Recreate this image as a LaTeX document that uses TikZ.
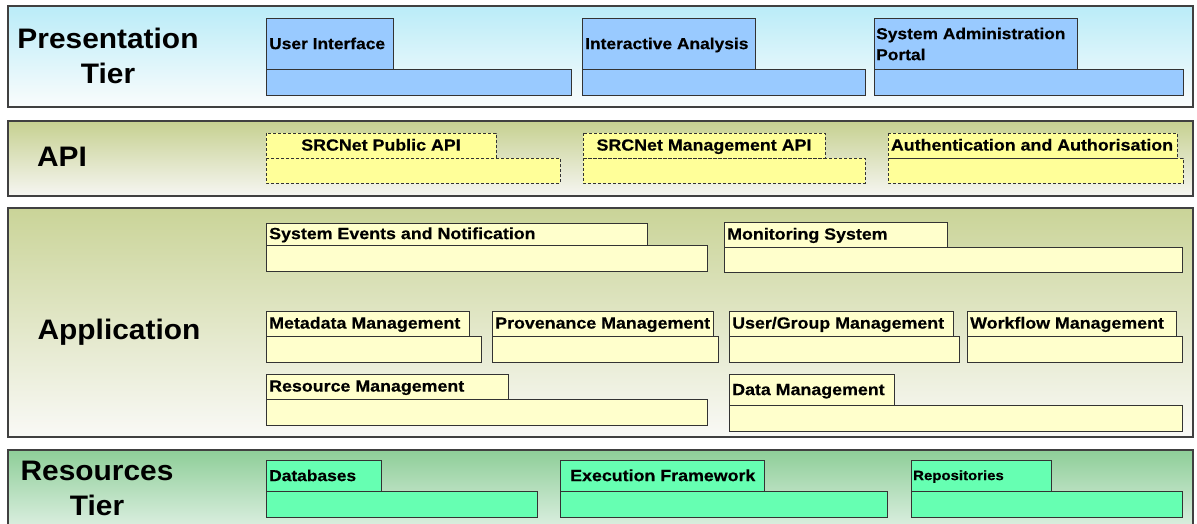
\documentclass[tikz,border=0pt]{standalone}
\usepackage{fontspec}
\setmainfont{Liberation Sans}[FakeStretch=1.06]
\newfontfamily\partfont{Liberation Sans}[FakeStretch=1.1, BoldFeatures={FakeBold=0.4}]

\definecolor{prestop}{RGB}{186,236,248}
\definecolor{presbot}{RGB}{250,252,252}
\definecolor{apitop}{RGB}{198,208,144}
\definecolor{apibot}{RGB}{246,246,242}
\definecolor{apptop}{RGB}{202,212,152}
\definecolor{appbot}{RGB}{249,249,246}
\definecolor{restop}{RGB}{142,206,152}
\definecolor{resbot}{RGB}{232,244,236}
\definecolor{presblue}{RGB}{153,202,255}
\definecolor{apiyellow}{RGB}{255,255,153}
\definecolor{appyellow}{RGB}{255,255,204}
\definecolor{resgreen}{RGB}{102,255,178}

\tikzset{
  tier/.style={draw=black!75, line width=1.2pt},
  tiername/.style={align=center, inner sep=0pt, font=\bfseries\fontsize{28.2}{35}\selectfont},
  part/.style={draw=black!80, line width=0.9pt},
  apipart/.style={draw=black!80, line width=0.9pt, dash pattern=on 3pt off 2pt},
  partname/.style={anchor=west, inner sep=0pt, text height=0.72em, text depth=0pt, yshift=-1.5pt,
    font=\partfont\bfseries\fontsize{16.2}{21}\selectfont},
  twoline/.style={anchor=west, inner sep=0pt, align=left, font=\partfont\bfseries\fontsize{15.8}{21}\selectfont},
  apiname/.style={inner sep=0pt, text height=0.72em, text depth=0pt, yshift=-1.5pt,
    font=\partfont\bfseries\fontsize{16.2}{19}\selectfont}
}

\begin{document}
\begin{tikzpicture}[x=1pt,y=-1pt]
\useasboundingbox (0,0) rectangle (1197,524);

% presentation tier
\draw[tier, top color=prestop, bottom color=presbot] (8,6) rectangle (1193,107);
\node[tiername] (presname) at (108,56) {Presentation\\Tier};

\draw[part, fill=presblue] (266,69) rectangle (571,95);
\draw[part, fill=presblue] (266,18) rectangle (393,69);
\node[partname, font=\partfont\bfseries\fontsize{15.8}{19}\selectfont] (ui) at (269,44) {User Interface};

\draw[part, fill=presblue] (582,69) rectangle (865,95);
\draw[part, fill=presblue] (582,18) rectangle (755,69);
\node[partname, font=\partfont\bfseries\fontsize{15.8}{19}\selectfont] (ia) at (585,44) {Interactive Analysis};

\draw[part, fill=presblue] (874,69) rectangle (1183,95);
\draw[part, fill=presblue] (874,18) rectangle (1077,69);
\node[twoline] (sap) at (876,44) {System Administration\\Portal};

% api tier
\draw[tier, top color=apitop, bottom color=apibot] (8,121) rectangle (1193,196);
\node[tiername] (apiname) at (62,157) {API};

\draw[apipart, fill=apiyellow] (266,158) rectangle (560,183);
\draw[apipart, fill=apiyellow] (266,133) rectangle (496,158);
\node[apiname] (pubapi) at (381,145.5) {SRCNet Public API};

\draw[apipart, fill=apiyellow] (583,158) rectangle (865,183);
\draw[apipart, fill=apiyellow] (583,133) rectangle (825,158);
\node[apiname] (mgmtapi) at (704,145.5) {SRCNet Management API};

\draw[apipart, fill=apiyellow] (888,158) rectangle (1183,183);
\draw[apipart, fill=apiyellow] (888,133) rectangle (1177,158);
\node[apiname] (auth) at (1032,145.5) {Authentication and Authorisation};

% application tier
\draw[tier, top color=apptop, bottom color=appbot] (8,208) rectangle (1193,437);
\node[tiername] (appname) at (119,332) {Application};

\draw[part, fill=appyellow] (266,245) rectangle (707,271);
\draw[part, fill=appyellow] (266,223) rectangle (647,245);
\node[partname] (events) at (269,234) {System Events and Notification};

\draw[part, fill=appyellow] (724,247) rectangle (1182,272);
\draw[part, fill=appyellow] (724,222) rectangle (947,247);
\node[partname] (monitor) at (727,234.5) {Monitoring System};

\draw[part, fill=appyellow] (266,336) rectangle (481,362);
\draw[part, fill=appyellow] (266,311) rectangle (469,336);
\node[partname] (meta) at (269,323.5) {Metadata Management};

\draw[part, fill=appyellow] (492,336) rectangle (718,362);
\draw[part, fill=appyellow] (492,311) rectangle (713,336);
\node[partname] (prov) at (495,323.5) {Provenance Management};

\draw[part, fill=appyellow] (729,336) rectangle (959,362);
\draw[part, fill=appyellow] (729,311) rectangle (953,336);
\node[partname] (usergroup) at (732,323.5) {User/Group Management};

\draw[part, fill=appyellow] (967,336) rectangle (1182,362);
\draw[part, fill=appyellow] (967,311) rectangle (1176,336);
\node[partname] (workflow) at (970,323.5) {Workflow Management};

\draw[part, fill=appyellow] (266,399) rectangle (707,425);
\draw[part, fill=appyellow] (266,374) rectangle (508,399);
\node[partname] (resmgmt) at (269,386.5) {Resource Management};

\draw[part, fill=appyellow] (729,405) rectangle (1182,431);
\draw[part, fill=appyellow] (729,374) rectangle (894,405);
\node[partname] (datamgmt) at (732,390) {Data Management};

% resources tier
\draw[tier, top color=restop, bottom color=resbot] (8,450) rectangle (1193,540);
\node[tiername] (resname) at (97,488) {Resources\\Tier};

\draw[part, fill=resgreen] (266,491) rectangle (537,517);
\draw[part, fill=resgreen] (266,460) rectangle (381,491);
\node[partname, font=\partfont\bfseries\fontsize{15.8}{19}\selectfont] (db) at (269,476) {Databases};

\draw[part, fill=resgreen] (560,491) rectangle (887,517);
\draw[part, fill=resgreen] (560,460) rectangle (764,491);
\node[partname] (exec) at (570,476) {Execution Framework};

\draw[part, fill=resgreen] (911,491) rectangle (1182,517);
\draw[part, fill=resgreen] (911,460) rectangle (1051,491);
\node[partname, font=\partfont\bfseries\fontsize{13.6}{17}\selectfont] (repo) at (913,475) {Repositories};
\end{tikzpicture}
\end{document}
